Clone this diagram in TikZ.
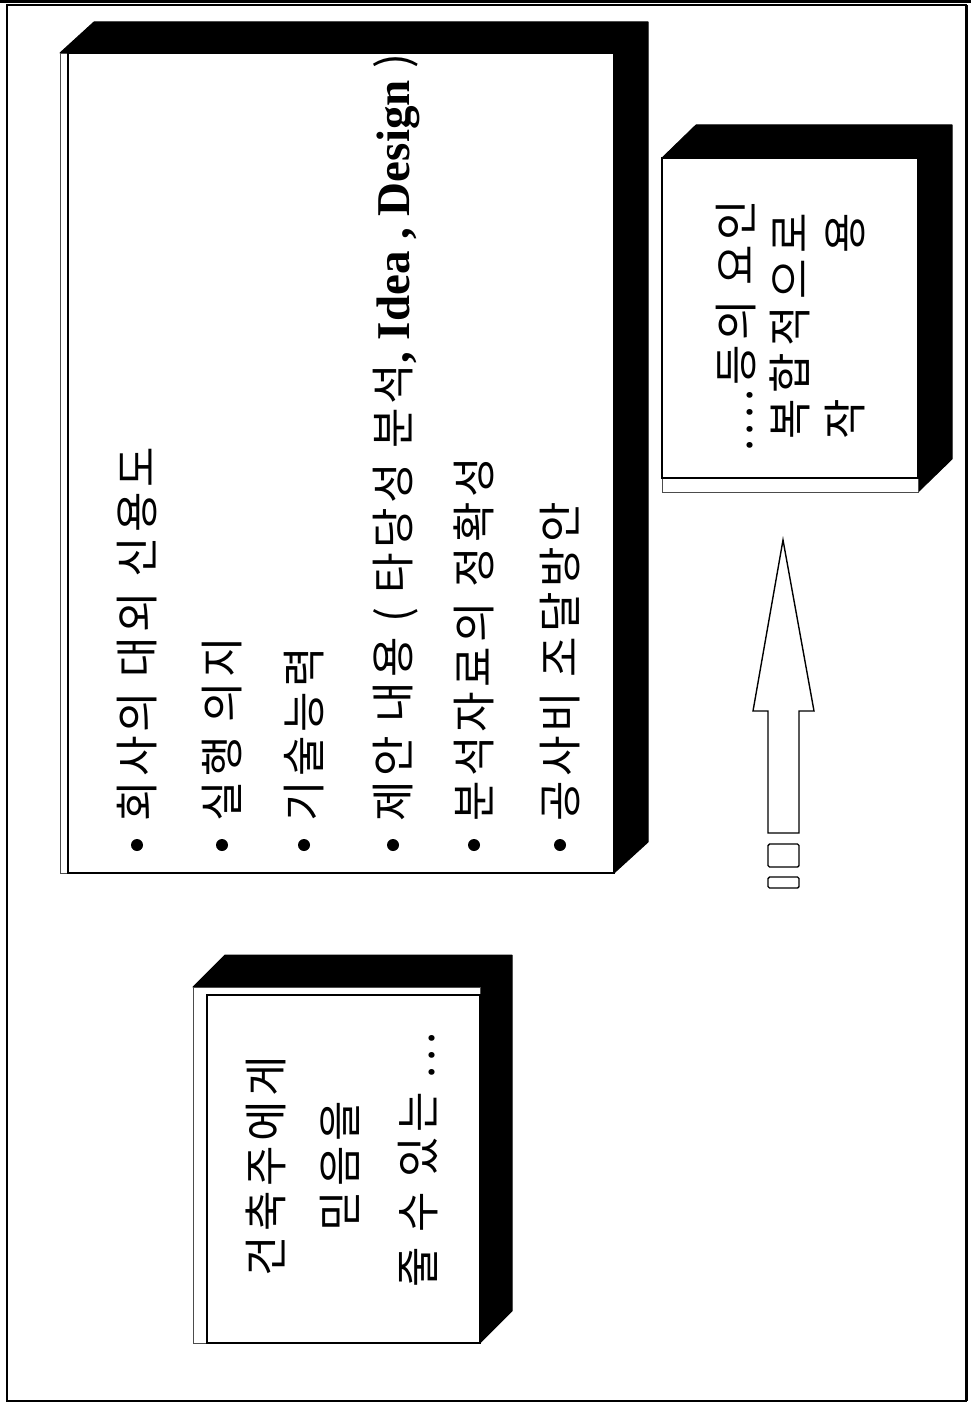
\documentclass[tikz,border=0pt]{standalone}
\usepackage{fontspec}
\newfontfamily\kr[LetterSpace=10]{Noto Sans CJK KR}
\newfontfamily\en{Liberation Serif}
\begin{document}
\begin{tikzpicture}[x=1pt,y=-1pt,
  sideface/.style={fill=black,draw=black,line width=1pt,line join=round},
  frontface/.style={fill=white,draw=black,line width=1.4pt},
  thinedge/.style={draw=black!70,line width=0.8pt},
  bigtxt/.style={rotate=90,anchor=base west,inner sep=0pt,font={\kr\fontsize{44}{52}\selectfont}},
  smtxt/.style={rotate=90,anchor=base west,inner sep=0pt,font={\kr\fontsize{44}{52}\selectfont}},
  bottxt/.style={rotate=90,anchor=base,inner sep=0pt,font={\kr\fontsize{44}{52}\selectfont}},
  blockarrow/.style={fill=white,draw=black,line width=1.4pt,line join=miter},
  stripe/.style={fill=white,draw=black,line width=1.4pt,rounded corners=1.5pt}]
\useasboundingbox (0,0) rectangle (971,1407);
% outer frame
\draw[line width=2pt] (7,5) rectangle (966,1401);
\draw[line width=3pt] (0,2) -- (971,2);
\draw[line width=2.5pt] (967,5) -- (967,1401);

% big box
\fill[sideface] (60,53) -- (94,22) -- (648,22) -- (648,842) -- (614,873) -- (614,53) -- cycle;
\draw[thinedge,fill=white] (60,53) rectangle (614,873);
\draw[frontface] (68,53) rectangle (614,873);
\node[bigtxt] (l1) at (153,822) {회사의 대외 신용도};
\node[bigtxt] (l2) at (238,822) {실행 의지};
\node[bigtxt] (l3) at (320,822) {기술능력};
\node[bigtxt] (l4) at (409,822) {제안 내용 ( 타당성 분석{\en\bfseries\fontsize{47}{54}\selectfont , Idea , Design }) };
\node[bigtxt] (l5) at (490,822) {분석자료의 정확성};
\node[bigtxt] (l6) at (576,822) {공사비 조달방안};
\foreach \cx in {137,222,304,393,474,560}
  \fill (\cx,845) circle (6);

% small box
\fill[sideface] (662,158) -- (696,125) -- (952,125) -- (952,459) -- (918,492) -- (918,158) -- cycle;
\draw[thinedge,fill=white] (662,158) rectangle (918,492);
\draw[frontface] (662,158) rectangle (918,478);
\node[smtxt] (s1) at (752,452) {....등의 요인};
\node[smtxt] (s2) at (806,440) {\makebox[227pt][l]{복\hfill 합\hfill 적\hfill 으\hfill 로}};
\node[smtxt] (s3) at (861,440) {\makebox[227pt][l]{작\hfill 용}};

% bottom box
\fill[sideface] (193,987) -- (225,955) -- (512,955) -- (512,1311) -- (480,1343) -- (480,987) -- cycle;
\draw[thinedge,fill=white] (193,987) rectangle (480,1343);
\draw[frontface] (207,995) rectangle (480,1343);
\node[bottxt] (b1) at (282,1166) {건축주에게};
\node[bottxt] (b2) at (356,1166) {믿음을};
\node[bottxt] (b3) at (434,1160) {줄 수 있는 ...};

% striped block arrow
\draw[blockarrow] (783,540) -- (814,711) -- (799,711) -- (799,833) -- (768,833) -- (768,711) -- (753,711) -- cycle;
\draw[stripe] (768,844) rectangle (799,867);
\draw[stripe] (768,877) rectangle (799,888);
\end{tikzpicture}
\end{document}
